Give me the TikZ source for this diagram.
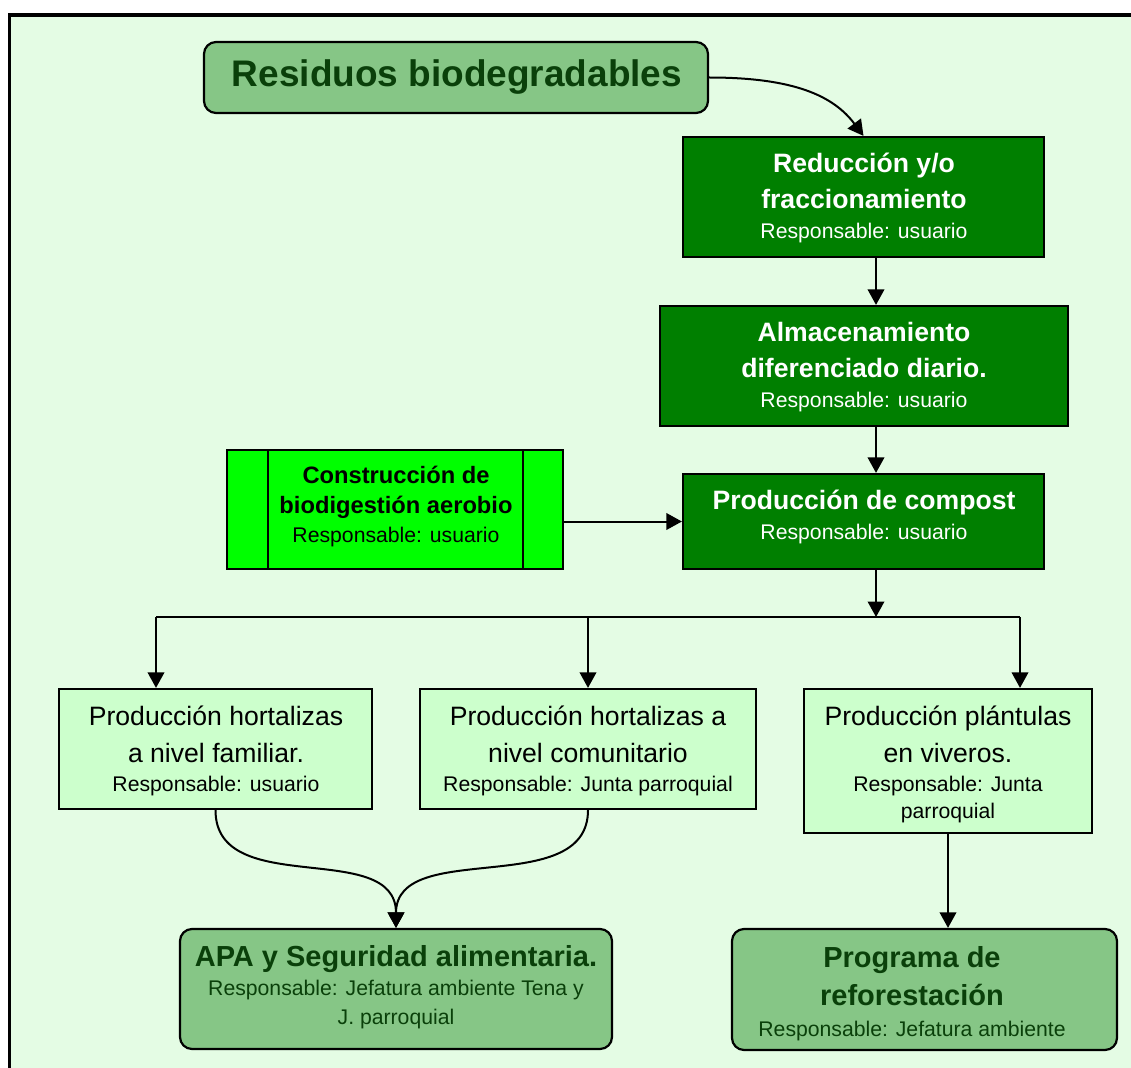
\documentclass[tikz,border=0pt]{standalone}
\usepackage{fontspec}
\setmainfont{Liberation Sans}
\usetikzlibrary{arrows.meta}
\definecolor{bgg}{HTML}{E4FCE4}
\definecolor{dkg}{HTML}{007F00}
\definecolor{ltg}{HTML}{CCFFCC}
\definecolor{lime}{HTML}{00FF00}
\definecolor{midg}{HTML}{86C686}
\definecolor{txg}{HTML}{0A400A}
\newcommand{\fsz}[1]{\fontsize{#1}{#1}\selectfont}
\tikzset{
  boxbase/.style={rectangle, draw=black, line width=2.2pt, inner sep=0pt},
  darkbox/.style={boxbase, fill=dkg},
  lightbox/.style={boxbase, fill=ltg},
  limebox/.style={boxbase, fill=lime},
  roundbox/.style={boxbase, fill=midg, rounded corners=12pt},
  lbl/.style={anchor=base, inner sep=0pt},
  wbold/.style={lbl, text=white, font=\bfseries\fsz{26.6}},
  wreg/.style={lbl, text=white, font=\fsz{21.2}},
  kreg/.style={lbl, text=black, font=\fsz{26.6}},
  ksmall/.style={lbl, text=black, font=\fsz{21.2}},
  gbold/.style={lbl, text=txg, font=\bfseries\fsz{29}},
  gsmall/.style={lbl, text=txg, font=\fsz{21.2}},
  arr/.style={draw=black, line width=2pt, -{Triangle[width=16.5pt,length=15.5pt]}},
  plain/.style={draw=black, line width=2pt}
}
\begin{document}
\begin{tikzpicture}[x=1pt, y=-1pt]
\useasboundingbox (0,0) rectangle (1131,1067);
\clip (0,0) rectangle (1131,1067);
\fill[white] (0,0) rectangle (1131,1067);
\fill[bgg] (9.5,15) rectangle (1145,1080);
\draw[black, line width=3.6pt] (1145,15) -- (9.5,15) -- (9.5,1080);

% Residuos
\node[roundbox, minimum width=504pt, minimum height=71pt] (res) at (456,77.5) {};
\node[lbl, text=txg, font=\bfseries\fsz{37}] (resT) at (457,87) {Residuos biodegradables};

% Reduccion
\node[darkbox, minimum width=361pt, minimum height=120pt] (red) at (863.5,197) {};
\node[wbold] (redA) at (864,173) {Reducción y/o};
\node[wbold] (redB) at (864,209) {fraccionamiento};
\node[wreg] (redC) at (864,239) {Responsable: usuario};

% Almacenamiento
\node[darkbox, minimum width=408pt, minimum height=120pt] (alm) at (864,366) {};
\node[wbold] (almA) at (864,341) {Almacenamiento};
\node[wbold] (almB) at (864,377) {diferenciado diario.};
\node[wreg] (almC) at (864,407) {Responsable: usuario};

% Compost
\node[darkbox, minimum width=361pt, minimum height=95pt] (comp) at (863.5,521.5) {};
\node[wbold] (compA) at (864,509) {Producción de compost};
\node[wreg] (compB) at (864,539) {Responsable: usuario};

% Construccion
\node[limebox, minimum width=336pt, minimum height=119pt] (con) at (395,509.5) {};
\draw[black, line width=2.2pt] (268,450) -- (268,569);
\draw[black, line width=2.2pt] (523,450) -- (523,569);
\node[lbl, text=black, font=\bfseries\fsz{23.7}] (conA) at (396,483) {Construcción de};
\node[lbl, text=black, font=\bfseries\fsz{23.7}] (conB) at (396,513) {biodigestión aerobio};
\node[ksmall] (conC) at (396,542) {Responsable: usuario};

% Familiar
\node[lightbox, minimum width=313pt, minimum height=120pt] (fam) at (215.5,749) {};
\node[kreg] (famA) at (216,725) {Producción hortalizas};
\node[kreg] (famB) at (216,762) {a nivel familiar.};
\node[ksmall] (famC) at (216,791) {Responsable: usuario};

% Comunitario
\node[lightbox, minimum width=336pt, minimum height=120pt] (com) at (588,749) {};
\node[kreg] (comA) at (588,725) {Producción hortalizas a};
\node[kreg] (comB) at (588,762) {nivel comunitario};
\node[ksmall] (comC) at (588,791) {Responsable: Junta parroquial};

% Plantulas
\node[lightbox, minimum width=288pt, minimum height=144pt] (pla) at (948,761) {};
\node[kreg] (plaA) at (948,725) {Producción plántulas};
\node[kreg] (plaB) at (948,762) {en viveros.};
\node[ksmall] (plaC) at (948,791) {Responsable: Junta};
\node[ksmall] (plaD) at (948,818) {parroquial};

% APA
\node[roundbox, minimum width=432pt, minimum height=120pt] (apa) at (396,989) {};
\node[gbold] (apaA) at (396,966) {APA y Seguridad alimentaria.};
\node[gsmall] (apaB) at (396,995) {Responsable: Jefatura ambiente Tena y};
\node[gsmall] (apaC) at (396,1024) {J. parroquial};

% Programa
\node[roundbox, minimum width=385pt, minimum height=121pt] (prog) at (924.5,989.5) {};
\node[gbold] (progA) at (912,967) {Programa de};
\node[gbold] (progB) at (912,1005) {reforestación};
\node[gsmall] (progC) at (912,1036) {Responsable: Jefatura ambiente};

% connectors
\coordinate (colx) at (876,0);
\coordinate (bar) at (876,617);
\coordinate (bL) at (156,617);
\coordinate (bR) at (1020,617);

\draw[arr] (res.east) .. controls +(85,0) and +(-30,-40) .. (red.north);
\draw[arr] (red.south -| colx) -- (alm.north -| colx);
\draw[arr] (alm.south -| colx) -- (comp.north -| colx);
\draw[arr] (comp.west -| con.east) -- (comp.west);
\draw[arr] (comp.south -| colx) -- (bar);
\draw[plain] (bL) -- (bR);
\draw[arr] (bL) -- (bL |- fam.north);
\draw[arr] (com.north |- bar) -- (com.north);
\draw[arr] (bR) -- (bR |- pla.north);
\draw[arr] (fam.south) .. controls ([yshift=-90pt]fam.south) and ([yshift=90pt]apa.north) .. (apa.north);
\draw[arr] (com.south) .. controls ([yshift=-90pt]com.south) and ([yshift=90pt]apa.north) .. (apa.north);
\draw[arr] (pla.south) -- (pla.south |- prog.north);
\end{tikzpicture}
\end{document}
